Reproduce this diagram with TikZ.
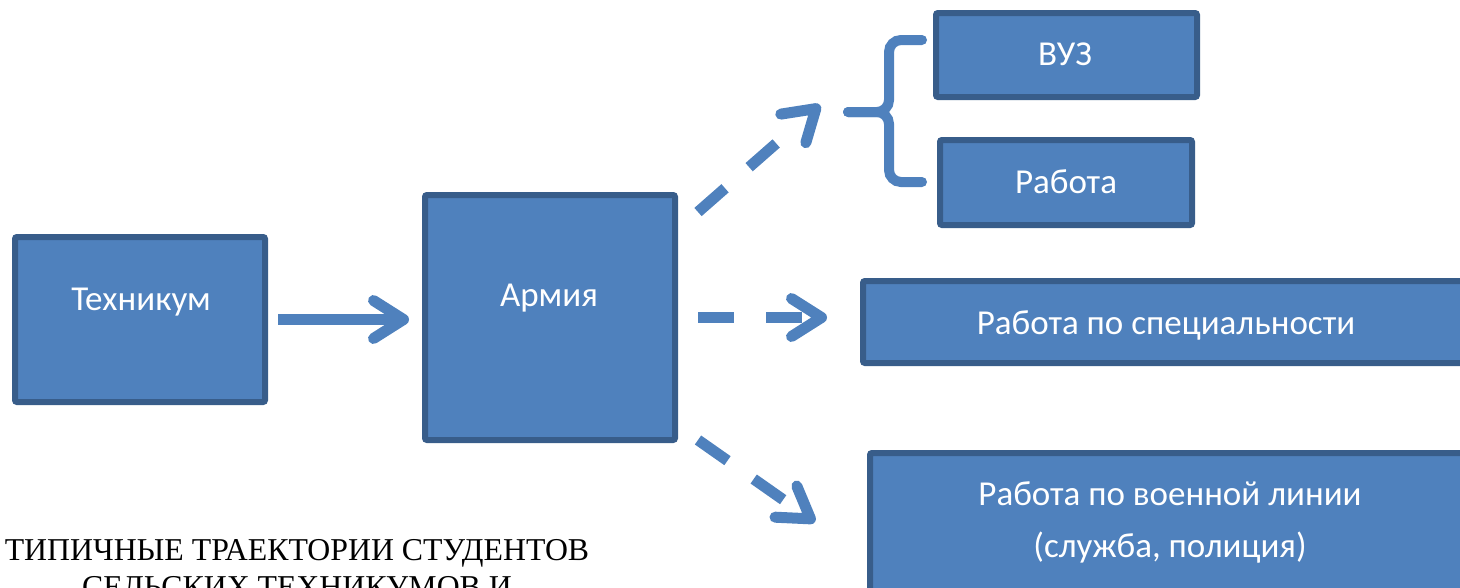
\documentclass[tikz,border=0pt]{standalone}
\usepackage{fontspec}
\newfontfamily\boxfont{Carlito}
\newfontfamily\capfont{Liberation Serif}
\usetikzlibrary{arrows.meta}
\definecolor{boxfill}{HTML}{4F81BD}
\definecolor{boxline}{HTML}{385D8A}
\begin{document}
\begin{tikzpicture}[x=1pt,y=-1pt,
  box/.style={draw=boxline,fill=boxfill,line width=6pt,rounded corners=2pt,inner sep=0pt},
  boxtext/.style={text=white,font=\boxfont\fontsize{35}{52}\selectfont,anchor=base,inner sep=0pt},
  conn/.style={draw=boxfill,line width=11pt,-{Straight Barb[length=30pt,width=38pt,round]}},
  dasharr/.style={conn,dash pattern=on 36pt off 32pt on 36pt off 300pt},
  curlyb/.style={draw=boxfill,line width=10pt,line cap=round,rounded corners=12pt}]
\useasboundingbox (0,0) rectangle (1460,587);
\clip (0,0) rectangle (1460,587);
\node[box,minimum width=250pt,minimum height=165pt] (tech) at (140,319.5) {};
\node[box,minimum width=250pt,minimum height=245pt] (arm) at (550,317.5) {};
\node[box,minimum width=261pt,minimum height=84pt] (vuz) at (1066.5,55) {};
\node[box,minimum width=252pt,minimum height=85pt] (job) at (1066,182.5) {};
\node[box,minimum width=606pt,minimum height=82pt] (spec) at (1166,322) {};
\node[box,minimum width=599pt,minimum height=142pt] (mil) at (1169.5,524) {};
\node[boxtext] (techtxt) at (141,310.5) {Техникум};
\node[boxtext] (armtxt) at (549,306.5) {Армия};
\node[boxtext] (vuztxt) at (1065,65) {ВУЗ};
\node[boxtext] (jobtxt) at (1066,193) {Работа};
\node[boxtext] (spectxt) at (1166,334) {Работа по специальности};
\node[boxtext,align=center] (miltxt) at (1170,557) {Работа по военной линии\\(служба, полиция)};
\node[font=\capfont\fontsize{31.8}{37}\selectfont,align=center,anchor=base,inner sep=0pt] (title) at (297,597) {ТИПИЧНЫЕ ТРАЕКТОРИИ СТУДЕНТОВ\\СЕЛЬСКИХ ТЕХНИКУМОВ И};
\coordinate (tip) at (848,112);
\draw[curlyb] (922,40) -- (889,40) -- (889,112) -- (tip);
\draw[curlyb] (tip) -- (889,112) -- (889,182) -- (922,182);
\draw[conn,shorten <=10pt,shorten >=13pt] (tech.east) -- (tech.east -| arm.west);
\draw[dasharr] ([shift={(20,20)}]arm.north east) -- ([shift={(-28,-7)}]tip);
\draw[dasharr] ([xshift=20pt]arm.east) -- ([xshift=-33pt]arm.east -| spec.west);
\draw[dasharr] ([shift={(20,-3)}]arm.south east) -- ([shift={(-52,-2)}]mil.west);
\end{tikzpicture}
\end{document}
